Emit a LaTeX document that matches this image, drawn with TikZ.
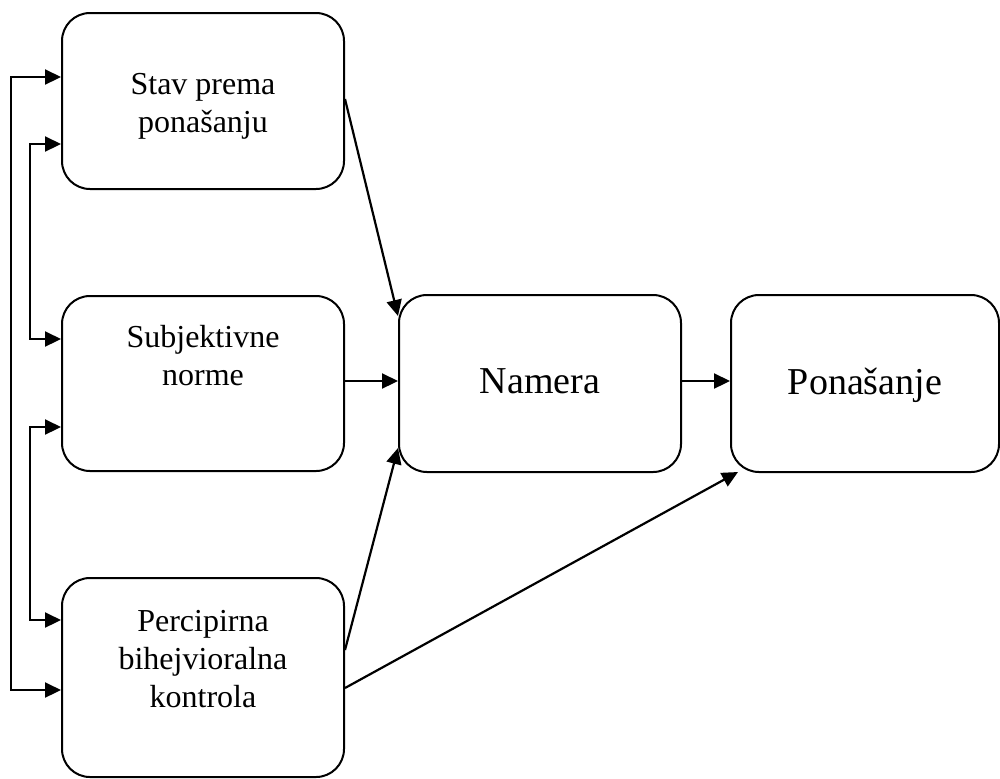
\documentclass[tikz,border=0pt]{standalone}
\usepackage{fontspec}
\setmainfont{Liberation Serif}
\usetikzlibrary{arrows.meta}
\tikzset{
  box/.style={draw, line width=1pt, rounded corners=14pt, inner sep=0pt, minimum width=141pt},
  small/.style={align=center, font=\fontsize{16}{19}\selectfont, inner sep=0pt},
  big/.style={align=center, font=\fontsize{19}{23}\selectfont, inner sep=0pt},
  arr/.style={line width=1.1pt, -{Triangle[length=8pt,width=7.5pt]}},
  dbl/.style={line width=1.1pt, {Triangle[length=8pt,width=7.5pt]}-{Triangle[length=8pt,width=7.5pt]}}
}
\begin{document}
\begin{tikzpicture}[x=0.5pt,y=-0.5pt]
\useasboundingbox (0,0) rectangle (1000,778);
\node[box, minimum height=88pt] (A) at (203,101) {};
\node[box, minimum height=87.5pt] (B) at (203,383.5) {};
\node[box, minimum height=99.5pt] (C) at (203,677.5) {};
\node[box, minimum height=88.5pt] (N) at (540,383.5) {};
\node[box, minimum height=88.5pt, minimum width=134pt] (P) at (865,383.5) {};
\node[small] (tA) at ([yshift=-2.5pt]A.center) {Stav prema\\ponašanju};
\node[small] (tB) at ([yshift=14pt]B.center) {Subjektivne\\norme};
\node[small] (tC) at ([yshift=9pt]C.center) {Percipirna\\bihejvioralna\\kontrola};
\node[big] (tN) at ([yshift=1pt]N.center) {Namera};
\node[big] (tP) at ([yshift=-1pt]P.center) {Ponašanje};
% left feedback connectors
\draw[dbl] ([yshift=12pt]A.west) -- ++(-25pt,0) |- ([yshift=-6.25pt]C.west);
\draw[dbl] ([yshift=-21.5pt]A.west) -- ++(-15.5pt,0) |- ([yshift=22.25pt]B.west);
\draw[dbl] ([yshift=-21.75pt]B.west) -- ++(-15.5pt,0) |- ([yshift=28.75pt]C.west);
% forward arrows
\draw[arr] ([yshift=1pt]A.east) -- ([yshift=33.75pt]N.west);
\draw[arr] ([yshift=1.25pt]B.east) -- ([yshift=1.25pt]N.west);
\draw[arr] ([yshift=13.75pt]C.east) -- ([yshift=-32.25pt]N.west);
\draw[arr] ([yshift=-5.25pt]C.east) -- ([xshift=4pt,yshift=0.5pt]P.south west);
\draw[arr] ([yshift=1.25pt]N.east) -- ([yshift=1.25pt]P.west);
\end{tikzpicture}
\end{document}
